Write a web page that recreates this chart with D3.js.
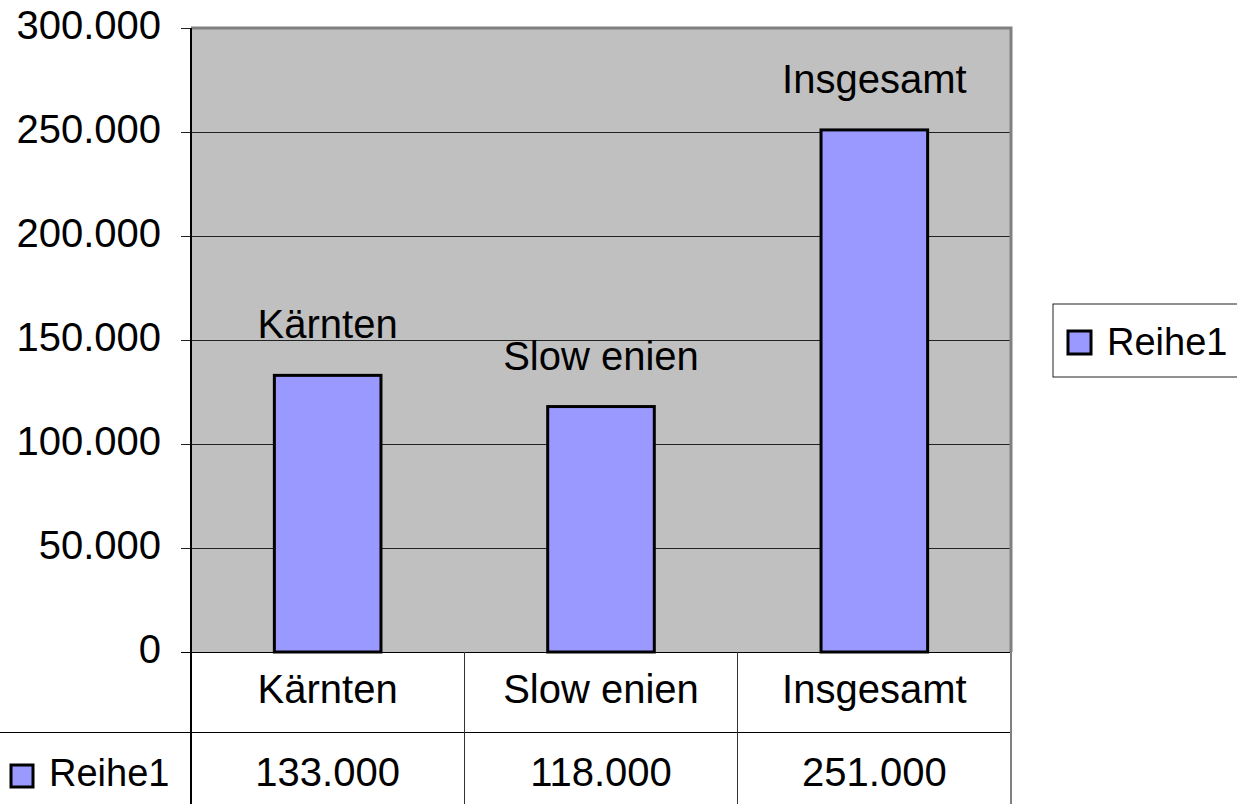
<!DOCTYPE html>
<html>
<head>
<meta charset="utf-8">
<script src="https://cdn.jsdelivr.net/npm/d3@7"></script>
<style>
  body { margin: 0; background: #fff; }
  svg { display: block; font-family: "Liberation Sans", Arial, sans-serif; }
  line { shape-rendering: crispEdges; }
</style>
</head>
<body>
<svg id="chart" width="1237" height="804"></svg>
<script>
// data
const categories = ["Kärnten", "Slow enien", "Insgesamt"];
const values = [133000, 118000, 251000];
const yTicks = [0, 50000, 100000, 150000, 200000, 250000, 300000];
const seriesName = "Reihe1";

const de = d3.formatLocale({ decimal: ",", thousands: ".", grouping: [3], currency: ["", " €"] });
const fmt = de.format(",.0f");

const svg = d3.select("#chart");
const FS = 40;

const plotL = 191, plotR = 1011, plotT = 28, plotB = 652;
const row1 = 732, tableBottom = 806;

const y = d3.scaleLinear().domain([0, 300000]).range([plotB, plotT]);
const x = d3.scaleBand().domain(categories).range([plotL, plotR])
  .paddingInner(0.61).paddingOuter(0.305);
const col = d3.scaleBand().domain(categories).range([plotL, plotR]);

// plot background
svg.append("rect")
  .attr("x", plotL).attr("y", plotT)
  .attr("width", plotR - plotL).attr("height", plotB - plotT)
  .attr("fill", "#c0c0c0");

// grid lines
svg.append("g")
  .selectAll("line")
  .data(yTicks.slice(1))
  .enter().append("line")
  .attr("x1", plotL).attr("x2", plotR)
  .attr("y1", d => y(d)).attr("y2", d => y(d))
  .attr("stroke", "#222").attr("stroke-width", 1);

// gray frame top / right
svg.append("path")
  .attr("d", `M${plotL},${plotT} H${plotR} V${plotB}`)
  .attr("fill", "none").attr("stroke", "#808080").attr("stroke-width", 3);

// y axis
const yAxis = d3.axisLeft(y).tickValues(yTicks).tickFormat(fmt).tickSize(10).tickPadding(20);
const ga = svg.append("g").attr("transform", `translate(${plotL},0)`).call(yAxis);
ga.select(".domain").remove();
ga.selectAll(".tick line").attr("stroke", "#222");
ga.selectAll(".tick text")
  .attr("font-size", FS).attr("fill", "#000")
  .attr("font-family", "Liberation Sans, Arial, sans-serif")
  .attr("dy", "0.26em");
svg.append("line")
  .attr("x1", plotL).attr("x2", plotL).attr("y1", plotT).attr("y2", tableBottom)
  .attr("stroke", "#000").attr("stroke-width", 2);

// bars
svg.append("g")
  .selectAll("rect")
  .data(values)
  .enter().append("rect")
  .attr("x", (d, i) => x(categories[i]))
  .attr("y", d => y(d))
  .attr("width", x.bandwidth())
  .attr("height", d => plotB - y(d))
  .attr("fill", "#9999ff")
  .attr("stroke", "#000").attr("stroke-width", 3);

// data labels (category names)
svg.append("g")
  .selectAll("text")
  .data(values)
  .enter().append("text")
  .attr("x", (d, i) => x(categories[i]) + x.bandwidth() / 2)
  .attr("y", d => y(d) - 37)
  .attr("text-anchor", "middle")
  .attr("font-size", FS)
  .text((d, i) => categories[i]);

// data table
const tg = svg.append("g");
tg.append("line").attr("x1", 181).attr("x2", plotR).attr("y1", plotB).attr("y2", plotB)
  .attr("stroke", "#000").attr("stroke-width", 1);
tg.append("line").attr("x1", 0).attr("x2", plotR).attr("y1", row1).attr("y2", row1)
  .attr("stroke", "#000").attr("stroke-width", 1);
tg.selectAll(".vline")
  .data(categories.slice(1).concat(["end"]))
  .enter().append("line")
  .attr("x1", d => d === "end" ? plotR : col(d))
  .attr("x2", d => d === "end" ? plotR : col(d))
  .attr("y1", plotB).attr("y2", tableBottom)
  .attr("stroke", d => d === "end" ? "#808080" : "#333").attr("stroke-width", d => d === "end" ? 2 : 1);

tg.selectAll(".cat")
  .data(categories)
  .enter().append("text")
  .attr("x", d => col(d) + col.bandwidth() / 2)
  .attr("y", 703)
  .attr("text-anchor", "middle")
  .attr("font-size", FS)
  .text(d => d);

tg.selectAll(".val")
  .data(values)
  .enter().append("text")
  .attr("x", (d, i) => col(categories[i]) + col.bandwidth() / 2)
  .attr("y", 786)
  .attr("text-anchor", "middle")
  .attr("font-size", FS)
  .text(d => fmt(d));

tg.append("rect")
  .attr("x", 11).attr("y", 765).attr("width", 22).attr("height", 22)
  .attr("fill", "#9999ff").attr("stroke", "#000").attr("stroke-width", 3);
tg.append("text")
  .attr("x", 49).attr("y", 786)
  .attr("font-size", 38)
  .text(seriesName);

// legend
const lg = svg.append("g");
lg.append("rect")
  .attr("x", 1053).attr("y", 304).attr("width", 200).attr("height", 73)
  .attr("fill", "#fff").attr("stroke", "#222").attr("stroke-width", 1);
lg.append("rect")
  .attr("x", 1068).attr("y", 331).attr("width", 23).attr("height", 23)
  .attr("fill", "#9999ff").attr("stroke", "#000").attr("stroke-width", 3);
lg.append("text")
  .attr("x", 1107).attr("y", 355)
  .attr("font-size", 38)
  .text(seriesName);
</script>
</body>
</html>
